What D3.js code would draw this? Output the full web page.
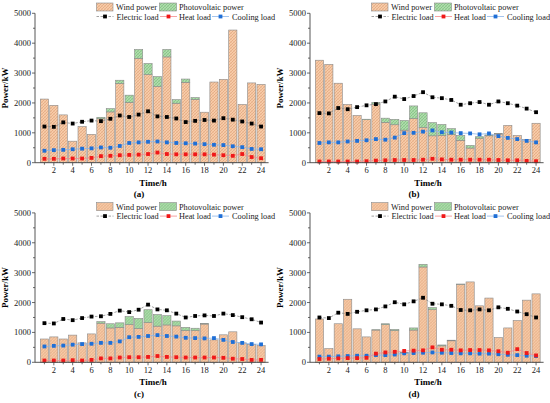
<!DOCTYPE html>
<html>
<head>
<meta charset="utf-8">
<script src="https://cdn.jsdelivr.net/npm/d3@7"></script>
<style>
    body { margin: 0; background: #fff; }
    svg { display: block; font-family: "Liberation Serif", "Times New Roman", serif; }
</style>
</head>
<body>
<svg id="chart" width="550" height="403"></svg>
<script>
// hours 1..24
var hours = d3.range(1, 25);

// panel (a)
var windA = [2130, 1920, 1600, 720, 1210, 950, 1470, 1700, 2650, 2020, 3490, 2950, 2550, 3540, 1990, 2690, 2120, 1690, 2700, 2790, 4440, 1950, 2670, 2620];
var pvA   = [0, 0, 0, 0, 0, 0, 50, 110, 110, 240, 300, 370, 330, 250, 120, 110, 60, 0, 0, 0, 0, 0, 0, 0];
var elecA = [1210, 1200, 1350, 1310, 1370, 1410, 1390, 1470, 1580, 1530, 1610, 1720, 1550, 1530, 1480, 1360, 1400, 1430, 1410, 1490, 1440, 1380, 1310, 1210];
var heatA = [130, 130, 140, 140, 140, 160, 220, 230, 250, 260, 270, 290, 340, 290, 280, 280, 280, 280, 270, 250, 230, 290, 190, 150];
var coolA = [400, 420, 430, 450, 470, 480, 510, 500, 560, 660, 680, 700, 710, 680, 660, 650, 640, 620, 600, 590, 550, 520, 460, 450];

// panel (b)
var windB = [3430, 3290, 2660, 1950, 1580, 1440, 1960, 1350, 1270, 1090, 1480, 1180, 900, 910, 940, 750, 490, 820, 900, 960, 1250, 910, 780, 1320];
var pvB   = [0, 0, 0, 0, 0, 15, 60, 140, 180, 320, 420, 490, 440, 370, 200, 160, 90, 50, 30, 20, 0, 0, 0, 0];
var elecB = [1660, 1650, 1830, 1790, 1860, 1920, 1960, 2050, 2210, 2130, 2230, 2360, 2190, 2160, 2100, 1940, 1990, 2030, 1940, 2050, 1990, 1910, 1810, 1690];
var heatB = [40, 40, 40, 40, 40, 50, 70, 80, 90, 90, 90, 100, 130, 110, 100, 100, 100, 100, 100, 90, 80, 80, 60, 50];
var coolB = [660, 680, 680, 710, 730, 750, 790, 770, 840, 990, 1000, 1040, 1080, 1020, 1010, 990, 980, 950, 980, 890, 830, 790, 730, 680];

// panel (c)
var windC = [780, 850, 780, 910, 650, 950, 1310, 1150, 1170, 1260, 1130, 1330, 1210, 1250, 1220, 1060, 1060, 1280, 750, 920, 1020, 650, 600, 560];
var pvC   = [0, 0, 0, 0, 0, 0, 50, 140, 150, 270, 340, 430, 390, 310, 160, 110, 80, 20, 0, 0, 0, 0, 0, 0];
var elecC = [1310, 1300, 1450, 1410, 1480, 1530, 1540, 1620, 1730, 1680, 1760, 1930, 1770, 1740, 1630, 1500, 1550, 1570, 1550, 1630, 1580, 1510, 1440, 1330];
var heatC = [60, 60, 60, 70, 60, 80, 130, 130, 160, 170, 170, 180, 210, 180, 170, 160, 160, 160, 160, 150, 120, 110, 80, 80];
var coolC = [530, 550, 560, 590, 610, 620, 650, 650, 700, 840, 850, 880, 910, 880, 860, 820, 810, 800, 810, 750, 680, 650, 610, 600];

// panel (d)
var windD = [1450, 460, 1290, 2110, 1120, 850, 1080, 1260, 1060, 310, 1080, 3190, 1760, 550, 720, 2610, 2690, 1890, 2150, 830, 1150, 1400, 2080, 2290];
var pvD   = [0, 0, 0, 0, 0, 0, 10, 30, 40, 20, 70, 90, 70, 30, 20, 10, 0, 0, 0, 0, 0, 0, 0, 0];
var elecD = [1500, 1480, 1660, 1620, 1690, 1740, 1770, 1870, 2010, 1940, 2040, 2160, 1960, 1940, 1890, 1750, 1740, 1770, 1740, 1840, 1790, 1700, 1610, 1500];
var heatD = [110, 120, 130, 140, 140, 150, 290, 330, 350, 380, 390, 400, 500, 420, 420, 400, 410, 410, 400, 370, 320, 440, 310, 230];
var coolD = [190, 190, 200, 210, 220, 220, 240, 240, 260, 300, 310, 320, 330, 320, 310, 300, 300, 290, 290, 270, 250, 240, 220, 210];

var yTicks = [0, 1000, 2000, 3000, 4000, 5000];
var xTicks = [2, 4, 6, 8, 10, 12, 14, 16, 18, 20, 22, 24];

var svg = d3.select("#chart");
var defs = svg.append("defs");

// hatch patterns
function hatch(id, fill, line) {
    var p = defs.append("pattern")
        .attr("id", id)
        .attr("patternUnits", "userSpaceOnUse")
        .attr("width", 3).attr("height", 3);
    p.append("rect").attr("width", 3).attr("height", 3).attr("fill", fill);
    p.append("path").attr("d", "M0,3 L3,0 M-1,1 L1,-1 M2,4 L4,2")
        .attr("stroke", line).attr("stroke-width", 0.5);
    p.append("path").attr("d", "M0,0 L3,3 M-1,2 L1,4 M2,-1 L4,1")
        .attr("stroke", line).attr("stroke-width", 0.35).attr("opacity", 0.6);
}
hatch("hWind", "#f7cba8", "#d8976c");
hatch("hPv", "#aedcab", "#6db46e");

var colElec = "#000000", colHeat = "#f01818", colCool = "#1f6fd6";

function drawPanel(ox, oy, label, wind, pv, elec, heat, cool) {
    var g = svg.append("g").attr("transform", "translate(" + ox + "," + oy + ")");

    var x = d3.scaleLinear().domain([0, 24.8]).range([35, 268.6]);
    var y = d3.scaleLinear().domain([0, 5000]).range([162.7, 13.3]);
    var bw = 0.87 * (x(1) - x(0));

    // bars
    var rows = hours.map(function(h, i) { return { h: h, w: wind[i], p: pv[i] }; });
    g.selectAll(".bw").data(rows).enter().append("rect")
        .attr("x", function(d) { return x(d.h) - bw / 2; })
        .attr("y", function(d) { return y(d.w); })
        .attr("width", bw)
        .attr("height", function(d) { return y(0) - y(d.w); })
        .attr("fill", "url(#hWind)")
        .attr("stroke", "#8a8a8a").attr("stroke-width", 0.6);
    g.selectAll(".bp").data(rows.filter(function(d) { return d.p > 0; })).enter().append("rect")
        .attr("x", function(d) { return x(d.h) - bw / 2; })
        .attr("y", function(d) { return y(d.w + d.p); })
        .attr("width", bw)
        .attr("height", function(d) { return y(d.w) - y(d.w + d.p); })
        .attr("fill", "url(#hPv)")
        .attr("stroke", "#8a8a8a").attr("stroke-width", 0.6);

    // load lines
    function series(vals, lineCol, dash, mk) {
        var line = d3.line().x(function(d, i) { return x(hours[i]); }).y(function(d) { return y(d); });
        g.append("path").datum(vals).attr("d", line)
            .attr("fill", "none").attr("stroke", lineCol).attr("stroke-width", 0.8)
            .attr("stroke-dasharray", dash);
        g.selectAll(null).data(vals).enter().append("rect")
            .attr("x", function(d, i) { return x(hours[i]) - 1.9; })
            .attr("y", function(d) { return y(d) - 1.9; })
            .attr("width", 3.8).attr("height", 3.8)
            .attr("fill", mk);
    }
    series(cool, "#8db6ea", "none", colCool);
    series(heat, "#f48a8a", "none", colHeat);
    series(elec, "#8c8c8c", "2.5,1.5", colElec);

    // axes
    var ax = g.append("g").attr("transform", "translate(0," + y(0) + ")");
    ax.append("line").attr("x1", x(0)).attr("x2", x(24.8)).attr("stroke", "#444").attr("stroke-width", 0.9);
    hours.forEach(function(h) {
        var major = h % 2 === 0;
        ax.append("line").attr("x1", x(h)).attr("x2", x(h))
            .attr("y1", 0).attr("y2", major ? 3 : 2)
            .attr("stroke", "#444").attr("stroke-width", 0.8);
    });
    ax.selectAll("text").data(xTicks).enter().append("text")
        .attr("x", function(d) { return x(d); }).attr("y", 10.5)
        .attr("text-anchor", "middle").attr("font-size", 8.5).attr("fill", "#222")
        .text(function(d) { return d; });

    var ay = g.append("g").attr("transform", "translate(" + x(0) + ",0)");
    ay.append("line").attr("y1", y(0)).attr("y2", y(5000)).attr("stroke", "#444").attr("stroke-width", 0.9);
    d3.range(0, 5001, 500).forEach(function(v) {
        var major = v % 1000 === 0;
        ay.append("line").attr("x1", 0).attr("x2", major ? -3 : -2)
            .attr("y1", y(v)).attr("y2", y(v))
            .attr("stroke", "#444").attr("stroke-width", 0.8);
    });
    ay.selectAll("text").data(yTicks).enter().append("text")
        .attr("x", -4).attr("y", function(d) { return y(d) + 3; })
        .attr("text-anchor", "end").attr("font-size", 8.5).attr("fill", "#222")
        .text(function(d) { return d; });

    // titles
    g.append("text").attr("transform", "translate(8," + 88 + ") rotate(-90)")
        .attr("text-anchor", "middle").attr("font-size", 9).attr("font-weight", "bold")
        .text("Power/kW");
    g.append("text").attr("x", 153).attr("y", 185.5)
        .attr("text-anchor", "middle").attr("font-size", 9).attr("font-weight", "bold")
        .text("Time/h");
    g.append("text").attr("x", 139).attr("y", 197)
        .attr("text-anchor", "middle").attr("font-size", 9).attr("font-weight", "bold")
        .text(label);

    // legend
    var lg = g.append("g").attr("font-size", 8.3).attr("fill", "#222");
    lg.append("rect").attr("x", 96.5).attr("y", 3).attr("width", 16.5).attr("height", 8)
        .attr("fill", "url(#hWind)").attr("stroke", "#8a8a8a").attr("stroke-width", 0.6);
    lg.append("text").attr("x", 116).attr("y", 10).text("Wind power");
    lg.append("rect").attr("x", 159.5).attr("y", 3).attr("width", 17).attr("height", 8)
        .attr("fill", "url(#hPv)").attr("stroke", "#8a8a8a").attr("stroke-width", 0.6);
    lg.append("text").attr("x", 179).attr("y", 10).text("Photovoltaic power");

    var leg2 = [
        { x: 96.5, t: "Electric load", lc: "#8c8c8c", dash: "2.5,1.5", mk: colElec, tx: 116.5 },
        { x: 160, t: "Heat load", lc: "#f48a8a", dash: "none", mk: colHeat, tx: 179 },
        { x: 212, t: "Cooling load", lc: "#8db6ea", dash: "none", mk: colCool, tx: 232 }
    ];
    leg2.forEach(function(d) {
        lg.append("line").attr("x1", d.x).attr("x2", d.x + 17).attr("y1", 16.5).attr("y2", 16.5)
            .attr("stroke", d.lc).attr("stroke-width", 0.8).attr("stroke-dasharray", d.dash);
        lg.append("rect").attr("x", d.x + 8.5 - 1.9).attr("y", 16.5 - 1.9)
            .attr("width", 3.8).attr("height", 3.8).attr("fill", d.mk);
        lg.append("text").attr("x", d.tx).attr("y", 19.5).text(d.t);
    });
}

drawPanel(0, 0, "(a)", windA, pvA, elecA, heatA, coolA);
drawPanel(275, 0, "(b)", windB, pvB, elecB, heatB, coolB);
drawPanel(0, 199.6, "(c)", windC, pvC, elecC, heatC, coolC);
drawPanel(275, 199.6, "(d)", windD, pvD, elecD, heatD, coolD);
</script>
</body>
</html>
